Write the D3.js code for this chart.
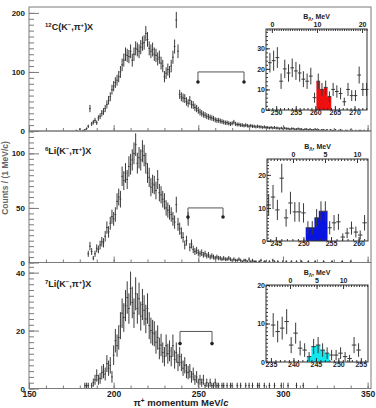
<!DOCTYPE html>
<html>
<head>
<meta charset="utf-8">
<script src="https://cdn.jsdelivr.net/npm/d3@7"></script>
<style>
  body { margin: 0; background: #fff; }
  svg { display: block; font-family: "Liberation Sans", Arial, sans-serif; font-weight: bold; }
</style>
</head>
<body>
<svg id="chart" width="376" height="408"></svg>
<script>
// ---- main spectra: counts per 1 MeV/c bin ----
const c12Start = 178;
const c12Counts = [1, 0, 3, 0, 1, 2, 4, 8, 38, 12, 15, 18, 14, 22, 25, 30, 33, 38, 45, 52,
  58, 70, 76, 82, 86, 92, 100, 112, 120, 130, 128, 126, 135, 120, 130, 140, 138, 135, 142, 148,
  150, 165, 155, 140, 135, 138, 130, 128, 122, 125, 115, 110, 92, 98, 104, 100, 110, 125, 143, 188,
  135, 62, 58, 56, 55, 50, 47, 52, 45, 44, 40, 38, 35, 32, 30, 28, 27, 25, 24, 23,
  22, 21, 19, 18, 18, 17, 16, 15, 14, 14, 13, 12, 13, 15, 12, 11, 11, 10, 10, 9,
  10, 9, 8, 9, 8, 8, 7, 8, 7, 7, 6, 7, 6, 6, 5, 6, 5, 6, 5, 5,
  4, 5, 4, 5, 4, 4, 3, 4, 4, 3, 3, 4, 3, 3, 2, 3, 3, 2, 3, 2,
  2, 3, 2, 2, 1, 2, 2, 1, 2, 0, 2, 1, 1, 2, 0, 1, 2, 1, 0, 1,
  1, 0, 2, 1, 0, 1, 0, 1, 1, 0, 1, 0, 1];

const li6Start = 184;
const li6Counts = [0, 8, 15, 10, 4, 8, 13, 12, 16, 19, 18, 24, 32, 28, 36, 42, 40, 44, 56, 60,
  58, 79, 75, 82, 76, 88, 90, 94, 100, 108, 91, 96, 94, 102, 98, 91, 82, 78, 69, 72,
  71, 66, 76, 64, 62, 58, 56, 50, 48, 46, 44, 40, 37, 53, 35, 31, 27, 23, 16, 20,
  40, 14, 17, 12, 10, 11, 9, 8, 9, 7, 8, 6, 7, 5, 6, 5, 4, 5, 4, 4,
  3, 4, 3, 3, 4, 3, 2, 3, 2, 2, 3, 2, 1, 2, 2, 1, 3, 1, 2, 1,
  1, 0, 1, 2, 0, 1, 1, 0, 1, 0, 2, 1, 0, 1, 0, 0, 1, 0, 1, 0,
  0, 1, 0, 0, 1, 0, 0, 1, 0, 0, 0, 1, 0, 0, 0, 1, 0, 0, 0, 0,
  1, 0, 0, 0, 0, 1, 0, 0, 0, 0, 0, 1, 0, 0, 0, 0, 1];

const li7Start = 183;
const li7Counts = [1, 1, 1, 0, 1, 2, 3, 4.5, 3, 3.5, 5.5, 6, 5, 8.6, 7, 8, 4, 11.5, 16.5, 14.8,
  17.6, 21.7, 26, 24.5, 28.6, 31.4, 27.6, 34.5, 29.7, 26, 32.7, 27.6, 31, 25, 29, 27, 24, 27.6, 21.7, 20,
  19.3, 18.9, 16, 17.6, 13.8, 15, 12.4, 11, 14.8, 12, 13, 11, 14.8, 10, 12.4, 9, 11, 9, 7, 8,
  6, 5.5, 6, 4, 5, 3, 4, 2, 3, 2, 3, 1, 2, 1, 2, 1, 1, 2, 1, 1,
  0, 1, 1, 0, 1, 0, 1, 1, 0, 0, 1, 0, 1, 0, 0, 1, 0, 1, 0, 1,
  0, 0, 1, 1, 0, 0, 1, 0, 0, 1, 0, 0, 1, 0, 0, 0, 1, 0, 0, 0,
  1, 0, 0, 0, 0, 1, 0, 0, 0, 1];

// ---- insets: bound-state region ----
const c12InsetStart = 248.4, c12InsetStep = 0.95;
const c12Inset = [23, 24, 25.5, 14, 20, 18, 20.5, 19, 18, 15, 14, 16.5, 6, 14, 10, 11, 6.5, 10, 9, 8,
  4, 10, 7, 7, 17, 10, 10];
const c12InsetFill = [13, 16];

const li6InsetStart = 243.7, li6InsetStep = 0.79;
const li6Inset = [10.9, 13.3, 9.4, 19, 7, 11.5, 8.8, 8.8, 8.5, 4, 4, 7, 9, 9, 4, 5.5, 5.8, 1.2, 2.4, 3.9,
  2.7, 1.8, 5.5];
const li6InsetFill = [9, 13];

const li7InsetStart = 235.5, li7InsetStep = 1;
const li7Inset = [9.6, 7.9, 8.8, 10.5, 4.4, 7.5, 3.6, 3.1, 1.4, 4.0, 4.4, 3.1, 2.3, 1.8, 1.8, 2.3, 1.4, 0.9, 4.4, 3.1];
const li7InsetFill = [8, 12];

// bracket markers [from, to, level, legEnd] in MeV/c and counts
const c12Bracket = [249.8, 277, 100, 83];
const li6Bracket = [243.9, 264.6, 50, 41.7];
const li7Bracket = [239.2, 258.1, 19.7, 15.5];

const momentumTicks = [150, 200, 250, 300, 350];

// ---- drawing ----
const svg = d3.select('#chart');
const axisColor = '#7a7a7a';
const markColor = '#3a3a3a';

const x = d3.scaleLinear().domain([150, 352]).range([29, 371]);
const [xl, xr] = x.range();

function drawLabel(g, lx, ly, mass, elem) {
  const t = g.append('text').attr('x', lx).attr('y', ly).attr('font-size', 9).attr('fill', '#222');
  t.append('tspan').attr('font-size', 6).attr('dy', -3.5).text(mass);
  t.append('tspan').attr('dy', 3.5).text(elem + '(K');
  t.append('tspan').attr('font-size', 6).attr('dy', -3.5).text('\u2212');
  t.append('tspan').attr('dy', 3.5).text(',\u03c0');
  t.append('tspan').attr('font-size', 6).attr('dy', -3.5).text('+');
  t.append('tspan').attr('dy', 3.5).text(')X');
}

function drawPoints(g, xs, ys, start, step, counts) {
  const pts = counts.map((v, i) => ({ p: start + i * step, v })).filter(d => d.v > 0);
  const pg = g.append('g').attr('stroke', markColor).attr('stroke-width', 1);
  pg.selectAll('line.err').data(pts).join('line').attr('class', 'err')
    .attr('x1', d => xs(d.p)).attr('x2', d => xs(d.p))
    .attr('y1', d => ys(d.v - Math.sqrt(d.v))) // Poisson error
    .attr('y2', d => ys(d.v + Math.sqrt(d.v)));
  pg.selectAll('line.bin').data(pts).join('line').attr('class', 'bin')
    .attr('x1', d => xs(d.p - step / 2)).attr('x2', d => xs(d.p + step / 2))
    .attr('y1', d => ys(d.v)).attr('y2', d => ys(d.v));
}

function styleAxis(s) {
  s.select('.domain').remove();
  s.selectAll('line').attr('stroke', axisColor);
  s.selectAll('text').attr('fill', '#222');
}

const panels = [
  { top: 7, bottom: 131, yMax: 210, yTicks: [0, 100, 200], minor: 10, start: c12Start, counts: c12Counts,
    mass: '12', elem: 'C', labelY: 30, bracket: c12Bracket, last: false },
  { top: 131, bottom: 262.5, yMax: 120.5, yTicks: [0, 50, 100], minor: 5, start: li6Start, counts: li6Counts,
    mass: '6', elem: 'Li', labelY: 154, bracket: li6Bracket, last: false },
  { top: 262.5, bottom: 388.5, yMax: 43.5, yTicks: [0, 20, 40], minor: 2, start: li7Start, counts: li7Counts,
    mass: '7', elem: 'Li', labelY: 287, bracket: li7Bracket, last: true }
];

panels.forEach((p, k) => {
  const y = d3.scaleLinear().domain([0, p.yMax]).range([p.bottom, p.top]);
  const g = svg.append('g');
  const clipId = 'clip' + k;
  svg.append('clipPath').attr('id', clipId).append('rect')
    .attr('x', xl).attr('y', p.top).attr('width', xr - xl).attr('height', p.bottom - p.top);

  // data
  drawPoints(g.append('g').attr('clip-path', `url(#${clipId})`), x, y, p.start, 1, p.counts);

  // y axis: minor then major ticks, pointing inward
  g.append('g').attr('transform', `translate(${xl},0)`)
    .call(d3.axisLeft(y).tickValues(d3.range(0, p.yMax, p.minor)).tickSize(-5).tickFormat(''))
    .call(styleAxis);
  g.append('g').attr('transform', `translate(${xl},0)`)
    .call(d3.axisLeft(y).tickValues(p.yTicks).tickSize(-10).tickPadding(4).tickFormat(d3.format('d')))
    .call(s => s.selectAll('text').attr('font-size', 8).attr('font-family', null))
    .call(styleAxis);

  // x axis ticks on each panel bottom
  g.append('g').attr('transform', `translate(0,${p.bottom})`)
    .call(d3.axisBottom(x).tickValues(d3.range(150, 352, 10)).tickSize(-3).tickFormat(''))
    .call(styleAxis);
  g.append('g').attr('transform', `translate(0,${p.bottom})`)
    .call(d3.axisBottom(x).tickValues(momentumTicks).tickSize(-6).tickPadding(2)
      .tickFormat(p.last ? d3.format('d') : ''))
    .call(s => s.selectAll('text').attr('font-size', 8.5).attr('font-family', null))
    .call(styleAxis);

  // frame
  g.append('rect').attr('x', xl).attr('y', p.top).attr('width', xr - xl).attr('height', p.bottom - p.top)
    .attr('fill', 'none').attr('stroke', axisColor).attr('stroke-width', 1);

  drawLabel(g, 45, p.labelY, p.mass, p.elem);

  // bracket
  const [b0, b1, lvl, leg] = p.bracket;
  g.append('path')
    .attr('d', d3.line()([[x(b0), y(leg)], [x(b0), y(lvl)], [x(b1), y(lvl)], [x(b1), y(leg)]]))
    .attr('fill', 'none').attr('stroke', '#555').attr('stroke-width', 1);
  g.selectAll('circle.end').data([b0, b1]).join('circle').attr('class', 'end')
    .attr('cx', d => x(d)).attr('cy', y(leg)).attr('r', 1.8).attr('fill', '#222');
});

// ---- insets ----
const insets = [
  { left: 266, right: 367, top: 29, bottom: 110, pDomain: [247.4, 273.2], pTicks: [250, 255, 260, 265, 270],
    bDomain: [-1.3, 21.1], bTicks: [0, 10, 20], yMax: 39.4, yTicks: [0, 10, 20, 30], yMinor: 2,
    start: c12InsetStart, step: c12InsetStep, values: c12Inset, fill: c12InsetFill, color: '#ee1010' },
  { left: 267, right: 368, top: 159, bottom: 241, pDomain: [243.4, 261.7], pTicks: [245, 250, 255, 260],
    bDomain: [-4.06, 11.72], bTicks: [0, 5, 10], yMax: 24.8, yTicks: [0, 10, 20], yMinor: 1,
    start: li6InsetStart, step: li6InsetStep, values: li6Inset, fill: li6InsetFill, color: '#0a14e0' },
  { left: 266, right: 368, top: 285, bottom: 362, pDomain: [233.9, 256.6], pTicks: [235, 240, 245, 250, 255],
    bDomain: [-4.53, 14.7], bTicks: [0, 5, 10], yMax: 20, yTicks: [0, 10, 20], yMinor: 1,
    start: li7InsetStart, step: li7InsetStep, values: li7Inset, fill: li7InsetFill, color: '#12e6ee' }
];

insets.forEach(s => {
  const ix = d3.scaleLinear().domain(s.pDomain).range([s.left, s.right]);
  const ib = d3.scaleLinear().domain(s.bDomain).range([s.left, s.right]);
  const iy = d3.scaleLinear().domain([0, s.yMax]).range([s.bottom, s.top]);
  const g = svg.append('g');

  g.append('rect').attr('x', s.left).attr('y', s.top).attr('width', s.right - s.left)
    .attr('height', s.bottom - s.top).attr('fill', '#fff');

  // highlighted bins as a filled step histogram
  const bins = s.values.map((v, i) => ({ p: s.start + i * s.step, v }));
  const sel = bins.slice(s.fill[0], s.fill[1] + 1);
  const edges = sel.map(d => ({ e: d.p - s.step / 2, v: d.v }));
  edges.push({ e: sel[sel.length - 1].p + s.step / 2, v: sel[sel.length - 1].v });
  g.append('path').datum(edges)
    .attr('d', d3.area().x(d => ix(d.e)).y0(iy(0)).y1(d => iy(d.v)).curve(d3.curveStepAfter))
    .attr('fill', s.color);

  drawPoints(g, ix, iy, s.start, s.step, s.values);

  const dark = '#333';
  const st = sel2 => { sel2.select('.domain').remove(); sel2.selectAll('line').attr('stroke', dark);
    sel2.selectAll('text').attr('font-size', 7).attr('font-family', null).attr('fill', '#222'); };

  // bottom: momentum
  g.append('g').attr('transform', `translate(0,${s.bottom})`)
    .call(d3.axisBottom(ix).tickValues(d3.range(Math.ceil(s.pDomain[0]), s.pDomain[1], 1)).tickSize(-2).tickFormat(''))
    .call(st);
  g.append('g').attr('transform', `translate(0,${s.bottom})`)
    .call(d3.axisBottom(ix).tickValues(s.pTicks).tickSize(-4).tickPadding(0).tickFormat(d3.format('d')))
    .call(st);
  // top: binding energy
  g.append('g').attr('transform', `translate(0,${s.top})`)
    .call(d3.axisTop(ib).tickValues(d3.range(Math.ceil(s.bDomain[0] * 2) / 2, s.bDomain[1], 0.5)).tickSize(-2).tickFormat(''))
    .call(st);
  g.append('g').attr('transform', `translate(0,${s.top})`)
    .call(d3.axisTop(ib).tickValues(s.bTicks).tickSize(-4).tickPadding(2).tickFormat(d3.format('d')))
    .call(st);
  // left: counts
  g.append('g').attr('transform', `translate(${s.left},0)`)
    .call(d3.axisLeft(iy).tickValues(d3.range(0, s.yMax, s.yMinor)).tickSize(-2).tickFormat(''))
    .call(st);
  g.append('g').attr('transform', `translate(${s.left},0)`)
    .call(d3.axisLeft(iy).tickValues(s.yTicks).tickSize(-4).tickPadding(1).tickFormat(d3.format('d')))
    .call(st);

  g.append('rect').attr('x', s.left).attr('y', s.top).attr('width', s.right - s.left)
    .attr('height', s.bottom - s.top).attr('fill', 'none').attr('stroke', dark).attr('stroke-width', 1);

  const t = g.append('text').attr('x', (s.left + s.right) / 2).attr('y', s.top - 10.5)
    .attr('text-anchor', 'middle').attr('font-size', 7).attr('fill', '#222');
  t.append('tspan').text('B');
  t.append('tspan').attr('font-size', 5).attr('dy', 2).text('\u039b');
  t.append('tspan').attr('dy', -2).text(', MeV');
});

// axis titles
const xt = svg.append('text').attr('x', 181).attr('y', 406).attr('text-anchor', 'middle')
  .attr('font-size', 9.5).attr('fill', '#222');
xt.append('tspan').text('\u03c0');
xt.append('tspan').attr('font-size', 6.5).attr('dy', -3.5).text('+');
xt.append('tspan').attr('dy', 3.5).text(' momentum MeV/');
xt.append('tspan').attr('font-style', 'italic').text('c');

svg.append('text').attr('transform', 'translate(8,178) rotate(-90)').attr('text-anchor', 'middle')
  .attr('font-size', 8.5).attr('fill', '#666').text('Counts / (1 MeV/c)');
</script>
</body>
</html>
